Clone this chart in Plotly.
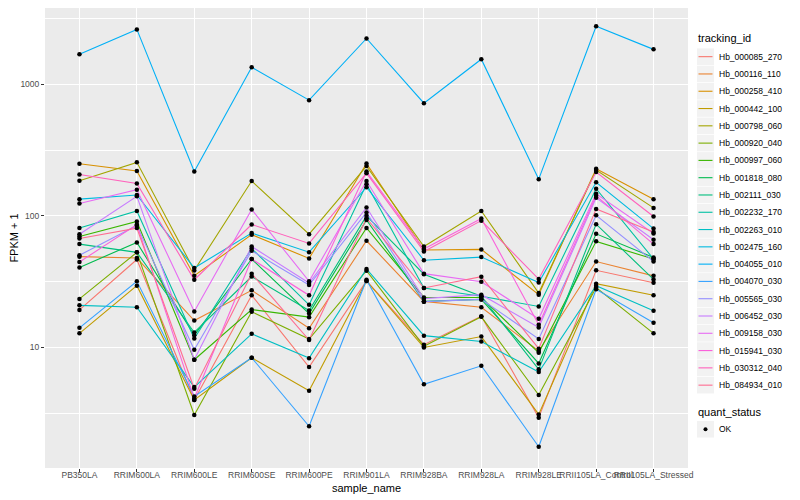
import plotly.graph_objects as go

samples = ["PB350LA", "RRIM600LA", "RRIM600LE", "RRIM600SE", "RRIM600PE", "RRIM901LA",
           "RRIM928BA", "RRIM928LA", "RRIM928LE", "RRII105LA_Control", "RRII105LA_Stressed"]

tracking_ids = ["Hb_000085_270", "Hb_000116_110", "Hb_000258_410", "Hb_000442_100", "Hb_000798_060",
                "Hb_000920_040", "Hb_000997_060", "Hb_001818_080", "Hb_002111_030", "Hb_002232_170",
                "Hb_002263_010", "Hb_002475_160", "Hb_004055_010", "Hb_004070_030", "Hb_005565_030",
                "Hb_006452_030", "Hb_009158_030", "Hb_015941_030", "Hb_030312_040", "Hb_084934_010"]

colors = ["#F8766D", "#EA8331", "#D89000", "#C09B00", "#A3A500", "#7CAE00", "#39B600", "#00BB4E",
          "#00BF7D", "#00C1A3", "#00BFC4", "#00BAE0", "#00B0F6", "#35A2FF", "#9590FF", "#C77CFF",
          "#E76BF3", "#FA62DB", "#FF62BC", "#FF6C91"]

# FPKM + 1 values per tracking_id, one value per sample
Hb_000085_270 = [19.3, 46.6, 3.99, 24.9, 7.1, 32, 10.5, 17.3, 2.93, 38.6, 31]
Hb_000116_110 = [49, 47.8, 16, 27.2, 14, 64.7, 22.4, 20.2, 9.4, 45, 35]
Hb_000258_410 = [249, 219, 35.1, 72, 47.5, 250, 55, 55.6, 25.2, 228, 134]
Hb_000442_100 = [12.8, 29.5, 3.99, 8.36, 4.7, 32, 10, 12.1, 3.1, 30.5, 24.9]
Hb_000798_060 = [185, 255, 38.5, 184, 72.6, 239, 58.5, 109, 25.9, 223, 115]
Hb_000920_040 = [23.4, 52.8, 3.07, 18.7, 11.6, 38.3, 10.2, 17.1, 4.35, 28.5, 12.8]
Hb_000997_060 = [69.7, 90.6, 8.07, 19.4, 17, 81, 24, 24, 9.1, 64, 47]
Hb_001818_080 = [40.6, 62.8, 12.4, 47, 18.1, 93, 22.4, 23.2, 7.57, 73, 48.3]
Hb_002111_030 = [61, 52.8, 13, 34.6, 19.1, 100, 36, 24.5, 6.82, 86.5, 32.9]
Hb_002232_170 = [81, 109, 11.7, 56.5, 21.1, 174, 28.3, 24.5, 20.5, 161, 47]
Hb_002263_010 = [20.9, 20.2, 5.0, 12.7, 8.3, 39.5, 12.3, 11.1, 6.5, 29.5, 19]
Hb_002475_160 = [134, 144, 40.2, 74, 53, 165, 46, 48.6, 31.2, 180, 80]
Hb_004055_010 = [1690, 2610, 217, 1346, 757, 2228, 718, 1550, 190, 2755, 1841]
Hb_004070_030 = [14.1, 31.8, 4.25, 8.36, 2.52, 32.7, 5.25, 7.26, 1.76, 27.7, 15.4]
Hb_005565_030 = [50.3, 84.5, 9.6, 54.3, 29.8, 106, 22.3, 23.2, 11.6, 101, 45]
Hb_006452_030 = [72.6, 141, 8.07, 58.5, 30.9, 116, 23.5, 25.2, 14.2, 137, 65.8]
Hb_009158_030 = [124, 158, 18.8, 112, 31.8, 184, 36.4, 31.6, 16.5, 147, 73.5]
Hb_015941_030 = [44.6, 86, 4.1, 47, 24.9, 217, 56, 95.5, 14.9, 142, 61]
Hb_030312_040 = [206, 176, 32.7, 86, 61.7, 211, 53.6, 92, 33.1, 215, 98.8]
Hb_084934_010 = [67.3, 80.7, 4.86, 36.4, 11.4, 96, 28.3, 34.5, 9.8, 113, 75.5]

series = [Hb_000085_270, Hb_000116_110, Hb_000258_410, Hb_000442_100, Hb_000798_060,
          Hb_000920_040, Hb_000997_060, Hb_001818_080, Hb_002111_030, Hb_002232_170,
          Hb_002263_010, Hb_002475_160, Hb_004055_010, Hb_004070_030, Hb_005565_030,
          Hb_006452_030, Hb_009158_030, Hb_015941_030, Hb_030312_040, Hb_084934_010]

quant_status = ["OK"]

OFF = 8  # page body margin in the browser
W, H = 800 - OFF, 500 - OFF
# panel edges in page pixels
PL, PR, PT, PB = 45, 688, 8, 468.3
L, R, T, B = PL - OFF, PR - OFF, PT - OFF, PB - OFF


def px(x):
    return (x - PL) / (PR - PL)


def py(y):
    return (PB - y) / (PB - PT)


fig = go.Figure()
for name, vals, col in zip(tracking_ids, series, colors):
    fig.add_trace(go.Scatter(x=samples, y=vals, mode="lines", name=name,
                             line=dict(color=col, width=1.1), showlegend=False))

all_x = [s for vals in series for s in samples]
all_y = [v for vals in series for v in vals]
fig.add_trace(go.Scatter(x=all_x, y=all_y, mode="markers", name=quant_status[0],
                         marker=dict(color="black", size=4.5, symbol="circle"),
                         showlegend=False))

font = "Liberation Sans, Arial, sans-serif"
shapes = []
annotations = []

# legend: tracking_id
annotations.append(dict(text="tracking_id", x=px(696), y=py(38), xref="paper", yref="paper",
                        xanchor="left", yanchor="middle", showarrow=False,
                        font=dict(size=11, color="black", family=font)))
step = 17.3
for i, (name, col) in enumerate(zip(tracking_ids, colors)):
    cy = 56.7 + i * step
    shapes.append(dict(type="rect", xref="paper", yref="paper",
                       x0=px(697), x1=px(714), y0=py(cy - 8.3), y1=py(cy + 8.3),
                       fillcolor="#F2F2F2", line=dict(width=0), layer="above"))
    shapes.append(dict(type="line", xref="paper", yref="paper",
                       x0=px(698.5), x1=px(712.5), y0=py(cy), y1=py(cy),
                       line=dict(color=col, width=1.1), layer="above"))
    annotations.append(dict(text=name, x=px(717), y=py(cy), xref="paper", yref="paper",
                            xanchor="left", yanchor="middle", showarrow=False,
                            font=dict(size=8.5, color="black", family=font)))

# legend: quant_status
annotations.append(dict(text="quant_status", x=px(696), y=py(412), xref="paper", yref="paper",
                        xanchor="left", yanchor="middle", showarrow=False,
                        font=dict(size=11, color="black", family=font)))
for j, q in enumerate(quant_status):
    cy = 429.5 + j * step
    shapes.append(dict(type="rect", xref="paper", yref="paper",
                       x0=px(697), x1=px(714), y0=py(cy - 8.3), y1=py(cy + 8.3),
                       fillcolor="#F2F2F2", line=dict(width=0), layer="above"))
    shapes.append(dict(type="circle", xref="paper", yref="paper",
                       x0=px(703.5), x1=px(707.5), y0=py(cy - 2), y1=py(cy + 2),
                       fillcolor="black", line=dict(width=0), layer="above"))
    annotations.append(dict(text=q, x=px(717), y=py(cy), xref="paper", yref="paper",
                            xanchor="left", yanchor="middle", showarrow=False,
                            font=dict(size=8.5, color="black", family=font)))

# x-axis title as annotation for exact placement
annotations.append(dict(text="sample_name", x=0.5, y=py(488), xref="paper", yref="paper",
                        xanchor="center", yanchor="middle", showarrow=False,
                        font=dict(size=11, color="black", family=font)))

# y log range so that 1000 sits at page y 84.3 and 10 at page y 347.7
dec = (347.7 - 84.3) / 2
ytop = 3 + (84.3 - PT) / dec
ybot = 1 - (PB - 347.7) / dec

fig.update_layout(
    width=W, height=H,
    margin=dict(l=L, r=W - R, t=T, b=H - B, autoexpand=False),
    paper_bgcolor="white", plot_bgcolor="#EBEBEB",
    font=dict(family=font, size=9, color="black"),
    showlegend=False, shapes=shapes, annotations=annotations,
)
fig.update_xaxes(type="category", categoryorder="array", categoryarray=samples,
                 range=[-0.6, 10.6], showgrid=True, gridcolor="white", gridwidth=1.1,
                 zeroline=False, ticks="outside", ticklen=3, tickcolor="#333333",
                 tickfont=dict(size=8.5, color="#4D4D4D"), tickangle=0, automargin=False,
                 ticklabelstandoff=-4)
fig.update_yaxes(type="log", range=[ybot, ytop], tickvals=[10, 100, 1000],
                 ticktext=["10", "100", "1000"], showgrid=True, gridcolor="white", gridwidth=1.1,
                 zeroline=False, ticks="outside", ticklen=3, tickcolor="#333333",
                 tickfont=dict(size=8.5, color="#4D4D4D"), automargin=False,
                 minor=dict(tickmode="array", tickvals=[3.1623, 31.623, 316.23, 3162.3],
                            showgrid=True, gridcolor="white", gridwidth=0.55, ticks=""),
                 title=dict(text="FPKM + 1", font=dict(size=11, color="black"), standoff=6))

fig.write_html("out.html")
